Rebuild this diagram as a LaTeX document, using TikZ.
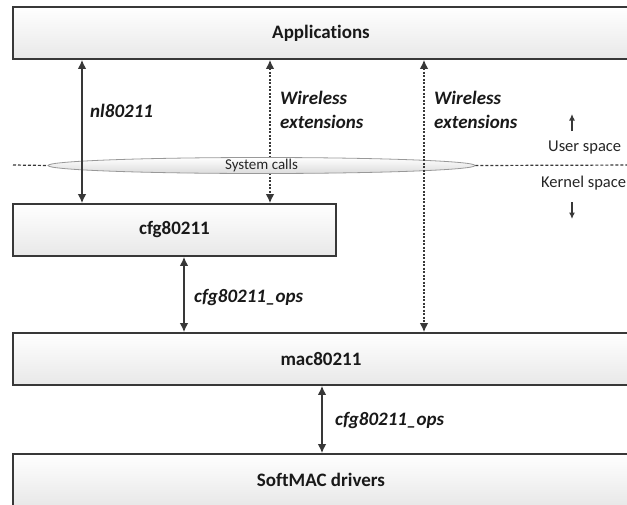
\documentclass[tikz,border=0pt]{standalone}
\usepackage{fontspec}
\newfontfamily\carlito[Ligatures=NoCommon]{Carlito}
\usetikzlibrary{arrows.meta,shapes.geometric,shadows}
\definecolor{edge}{HTML}{383838}
\begin{document}
\begin{tikzpicture}[x=1pt,y=-1pt,
  layer/.style={draw=edge, line width=1.6pt, rectangle, inner sep=0pt,
    top color=white, bottom color=black!9, minimum height=52pt,
    drop shadow={shadow xshift=1.2pt, shadow yshift=-1.2pt, opacity=0.35, fill=black!60},
    font=\carlito\bfseries\fontsize{19}{22}\selectfont, text=black!90},
  lbl/.style={anchor=west, inner sep=0pt, align=left,
    font=\carlito\bfseries\itshape\fontsize{19}{24}\selectfont, text=black!90},
  small/.style={inner sep=0pt, font=\carlito\fontsize{16.5}{19}\selectfont, text=black!85},
  solidarr/.style={draw=edge, line width=1.5pt, {Latex[length=9pt,width=8.5pt]}-{Latex[length=9pt,width=8.5pt]}},
  dotarr/.style={draw=edge, line width=1.5pt, dash pattern=on 2pt off 1.5pt,
    {Latex[length=9pt,width=8.5pt]}-{Latex[length=9pt,width=8.5pt]}},
  sep/.style={draw=edge, line width=1.2pt, dash pattern=on 3pt off 2pt},
  smallarr/.style={draw=edge, line width=1.4pt, -{Latex[length=6.5pt,width=6pt]}}]
\useasboundingbox (0,0) rectangle (627,504);
\fill[white] (0,0) rectangle (627,504);
\clip (0,0) rectangle (627,504);

% layers
\node[layer, minimum width=616pt] (app) at (321,33) {Applications};
\node[layer, minimum width=323pt] (cfg) at (174.5,230) {cfg80211};
\node[layer, minimum width=616pt] (mac) at (321,359) {mac80211};
\node[layer, minimum width=616pt] (soft) at (321,480) {SoftMAC drivers};

% x positions of connectors
\coordinate (xnl) at (82,0);
\coordinate (xwe) at (270,0);
\coordinate (xwm) at (424,0);
\coordinate (xo1) at (184,0);
\coordinate (xo2) at (322,0);

\draw[dotarr] (app.south -| xwe) -- (cfg.north -| xwe);

% user / kernel separation
\coordinate (sepl) at (13,165);
\coordinate (sepr) at (640,165);
\node[ellipse, draw=black!40, line width=0.8pt, inner sep=0pt, top color=white, bottom color=black!14,
  minimum width=427pt, minimum height=16pt] (sys) at (261.5,165.5) {};
\node[inner sep=0pt, font=\carlito\fontsize{15}{17}\selectfont, text=black!85] (sysl) at (sys.center) {System calls};
\draw[sep] (sepl) -- (sys.west);
\draw[sep] (sys.east) -- (sepr);

\draw[solidarr] (app.south -| xnl) -- (cfg.north -| xnl);
\draw[dotarr] (app.south -| xwm) -- (mac.north -| xwm);
\draw[solidarr] (cfg.south -| xo1) -- (mac.north -| xo1);
\draw[solidarr] (mac.south -| xo2) -- (soft.north -| xo2);

% connector labels
\node[lbl] (lnl) at (90,111) {nl80211};
\node[lbl] (lwe1) at (280,110) {Wireless\\extensions};
\node[lbl] (lwe2) at (434,110) {Wireless\\extensions};
\node[lbl] (lo1) at (194,297) {cfg80211\_ops};
\node[lbl] (lo2) at (335,420) {cfg80211\_ops};

% space annotations
\node[small, anchor=west] (user) at (548,148) {User space};
\node[small, anchor=west] (kern) at (541,183) {Kernel space};
\coordinate (ua) at (572,131);
\coordinate (ub) at (572,114);
\coordinate (da) at (572,202);
\coordinate (db) at (572,219);
\draw[smallarr] (ua) -- (ub);
\draw[smallarr] (da) -- (db);
\end{tikzpicture}
\end{document}
